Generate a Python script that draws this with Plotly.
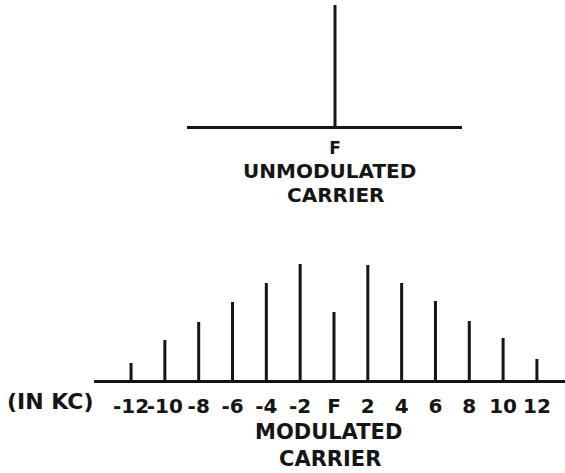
import plotly.graph_objects as go

W, H = 565, 473

# Unmodulated carrier: a single line at the carrier frequency F
carrier_offset_kc = [0]
carrier_amp = [121]
carrier_tick = ["F"]

# Modulated carrier: carrier plus sidebands every 2 kc
offsets_kc = [-12, -10, -8, -6, -4, -2, 0, 2, 4, 6, 8, 10, 12]
offset_ticks = ["-12", "-10", "-8", "-6", "-4", "-2", "F", "2", "4", "6", "8", "10", "12"]
modulated_amp = [17, 40, 58, 78, 97, 116, 68, 115, 97, 79, 59, 42, 21]

INK = "#151515"
FONT = "DejaVu Sans"


def stems(xs, ys):
    """Vertical lines from the baseline up to each amplitude."""
    sx, sy = [], []
    for x, y in zip(xs, ys):
        sx += [x, x, None]
        sy += [0, y, None]
    return sx, sy


def px_x(p):
    return p / W


def px_y(p):
    return 1 - p / H


fig = go.Figure()

tx, ty = stems(carrier_offset_kc, carrier_amp)
fig.add_trace(go.Scatter(x=tx, y=ty, mode="lines", line=dict(color=INK, width=3),
                         xaxis="x", yaxis="y", hoverinfo="skip", showlegend=False))

bx, by = stems(offsets_kc, modulated_amp)
fig.add_trace(go.Scatter(x=bx, y=by, mode="lines", line=dict(color=INK, width=3),
                         xaxis="x2", yaxis="y2", hoverinfo="skip", showlegend=False))

axis_common = dict(showgrid=False, zeroline=False, showline=True, linecolor=INK,
                   linewidth=3, ticks="", tickangle=0, fixedrange=True)

fig.update_layout(
    width=W, height=H,
    margin=dict(l=0, r=0, t=0, b=0),
    paper_bgcolor="white", plot_bgcolor="white",
    font=dict(family=FONT, color=INK),
    xaxis=dict(domain=[px_x(187), px_x(462)], range=[-148, 127], anchor="y",
               tickvals=carrier_offset_kc, ticktext=carrier_tick,
               tickfont=dict(size=17, family=FONT, weight="bold", color=INK),
               ticklabelstandoff=5, **axis_common),
    yaxis=dict(domain=[px_y(126), px_y(0)], range=[0, 126], anchor="x",
               visible=False, fixedrange=True),
    xaxis2=dict(domain=[px_x(94), 1], range=[-14.19, 13.66], anchor="y2",
                tickvals=offsets_kc, ticktext=offset_ticks,
                tickfont=dict(size=20, family=FONT, weight="bold", color=INK),
                ticklabelstandoff=6, **axis_common),
    yaxis2=dict(domain=[px_y(380), px_y(250)], range=[0, 130], anchor="x2",
                visible=False, fixedrange=True),
)

labels = [
    ("UNMODULATED", 329, 171, 20),
    ("CARRIER", 335, 195, 20),
    ("MODULATED", 328, 432, 21),
    ("CARRIER", 330, 459, 21),
]
for text, x, y, size in labels:
    fig.add_annotation(text=text, x=px_x(x), y=px_y(y), xref="paper", yref="paper",
                       xanchor="center", yanchor="middle", showarrow=False,
                       font=dict(family=FONT, size=size, weight="bold", color=INK))

fig.add_annotation(text="(IN KC)", x=px_x(5), y=px_y(401), xref="paper", yref="paper",
                   xanchor="left", yanchor="middle", showarrow=False,
                   font=dict(family=FONT, size=22, weight="bold", color=INK))

fig.write_html("out.html")
